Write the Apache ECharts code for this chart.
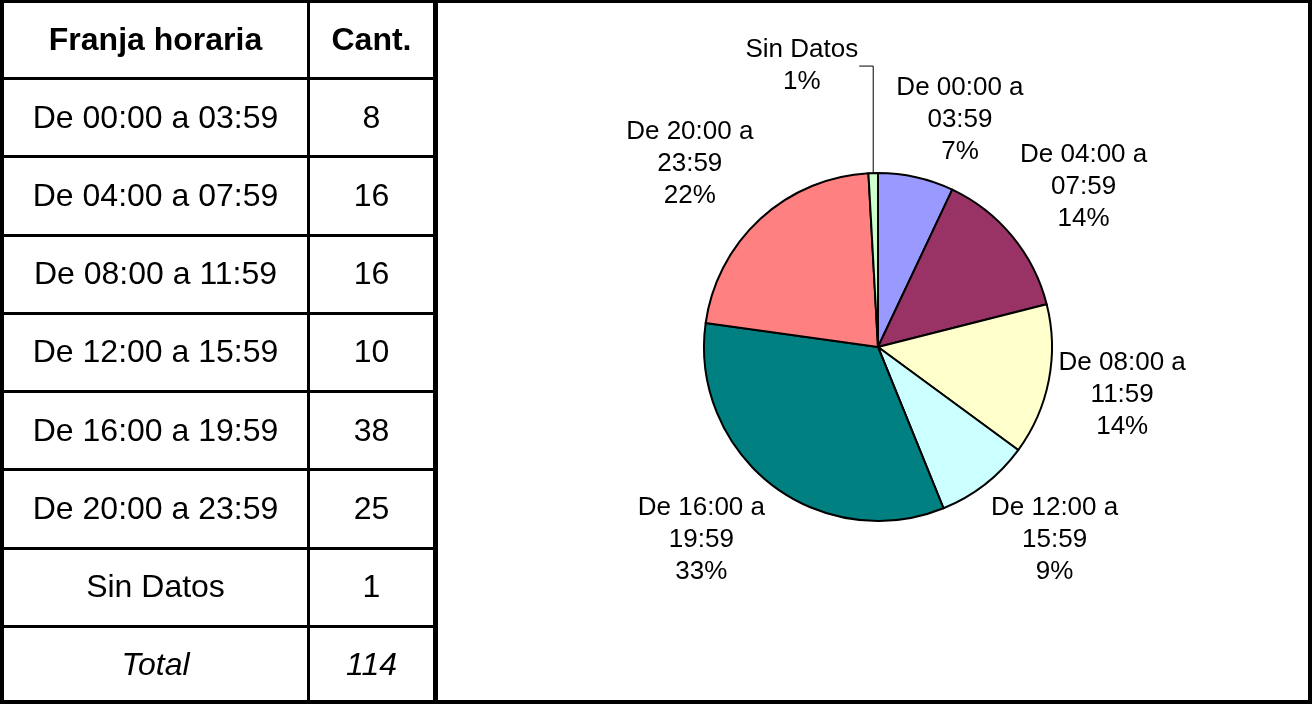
<!DOCTYPE html>
<html>
<head>
<meta charset="utf-8">
<script src="https://cdn.jsdelivr.net/npm/echarts@6/dist/echarts.min.js"></script>
<style>
html, body { margin: 0; padding: 0; background: #fff; }
#wrap { position: relative; width: 1312px; height: 704px; overflow: hidden; font-family: 'Liberation Sans', Arial, sans-serif; }
#chart { position: absolute; left: 0; top: 0; width: 1312px; height: 704px; }
.ln { position: absolute; background: #000; }
.cell { position: absolute; display: flex; align-items: center; justify-content: center; font-size: 32px; color: #000; white-space: nowrap; }
</style>
</head>
<body>
<div id="wrap">
  <div id="chart"></div>
  <div id="table"></div>
</div>
<script>
// datos
var franjas = ['De 00:00 a 03:59', 'De 04:00 a 07:59', 'De 08:00 a 11:59', 'De 12:00 a 15:59',
               'De 16:00 a 19:59', 'De 20:00 a 23:59', 'Sin Datos'];
var cantidades = [8, 16, 16, 10, 38, 25, 1];
var colores = ['#9999FF', '#993366', '#FFFFCC', '#CCFFFF', '#008080', '#FF8080', '#CCFFCC'];
var encabezado = ['Franja horaria', 'Cant.'];
var etiquetaTotal = 'Total';

var total = cantidades.reduce(function (a, b) { return a + b; }, 0);

// ---- tabla (html) ----
var tabla = document.getElementById('table');
var rowH = 704 / 9;

function addLine(x, y, w, h) {
    var d = document.createElement('div');
    d.className = 'ln';
    d.style.left = x + 'px'; d.style.top = y + 'px';
    d.style.width = w + 'px'; d.style.height = h + 'px';
    tabla.appendChild(d);
}
function addCell(txt, row, col, style) {
    var d = document.createElement('div');
    d.className = 'cell';
    var left = col === 0 ? 4 : 310;
    var width = col === 0 ? 303 : 123;
    d.style.left = left + 'px'; d.style.width = width + 'px';
    d.style.top = (rowH * row) + 'px'; d.style.height = rowH + 'px';
    if (style === 'bold') d.style.fontWeight = 'bold';
    if (style === 'italic') d.style.fontStyle = 'italic';
    d.textContent = txt;
    tabla.appendChild(d);
}

addCell(encabezado[0], 0, 0, 'bold');
addCell(encabezado[1], 0, 1, 'bold');
franjas.forEach(function (f, i) {
    addCell(f, i + 1, 0);
    addCell(String(cantidades[i]), i + 1, 1);
});
addCell(etiquetaTotal, 8, 0, 'italic');
addCell(String(total), 8, 1, 'italic');

for (var i = 1; i < 9; i++) addLine(0, Math.round(rowH * i) - 1, 435, 3);
addLine(307, 0, 3, 704);
addLine(0, 0, 1312, 3);
addLine(0, 700, 1312, 4);
addLine(0, 0, 4, 704);
addLine(1308, 0, 4, 704);
addLine(433, 0, 5, 704);

// ---- torta ----
var CX = 878, CY = 347, R = 174;

var mids = [];
var acc = 0;
cantidades.forEach(function (v) {
    mids.push((acc + v / 2) / total * Math.PI * 2);
    acc += v;
});

function clamp(v) { return Math.max(-1, Math.min(1, v)); }

var chart = echarts.init(document.getElementById('chart'));
chart.setOption({
    animation: false,
    series: [{
        type: 'pie',
        center: [CX, CY],
        radius: R,
        startAngle: 90,
        clockwise: true,
        avoidLabelOverlap: false,
        silent: true,
        itemStyle: { borderColor: '#000', borderWidth: 2 },
        label: {
            show: true,
            position: 'outside',
            color: '#000',
            fontFamily: 'Liberation Sans, Arial, sans-serif',
            fontSize: 26,
            lineHeight: 32,
            align: 'center',
            formatter: function (p) {
                return p.name.replace(' a ', ' a\n') + '\n' + Math.round(p.percent) + '%';
            }
        },
        labelLine: { show: false, lineStyle: { color: '#000', width: 1 } },
        labelLayout: function (p) {
            var a = mids[p.dataIndex];
            var s = Math.sin(a), c = Math.cos(a);
            var hw = p.labelRect.width / 2, hh = p.labelRect.height / 2;
            if (cantidades[p.dataIndex] / total < 0.02) {
                // rebanada chica: etiqueta arriba a la izquierda con guía
                var ex = CX + R * s, ey = CY - R * c;
                var ly = ey - 107;
                var lx = ex - 15 - hw;
                return {
                    x: lx, y: ly, align: 'center', verticalAlign: 'middle',
                    labelLinePoints: [[ex, ey], [ex, ly], [ex - 14, ly]]
                };
            }
            var px = CX + (R + 10) * s, py = CY - (R + 10) * c;
            return {
                x: px + clamp(3 * s) * hw,
                y: py + clamp(-1.4 * c) * hh,
                align: 'center',
                verticalAlign: 'middle'
            };
        },
        data: franjas.map(function (f, i) {
            var d = { name: f, value: cantidades[i], itemStyle: { color: colores[i] } };
            if (cantidades[i] / total < 0.02) d.labelLine = { show: true, length: 10, length2: 10 };
            return d;
        })
    }]
});
</script>
</body>
</html>
